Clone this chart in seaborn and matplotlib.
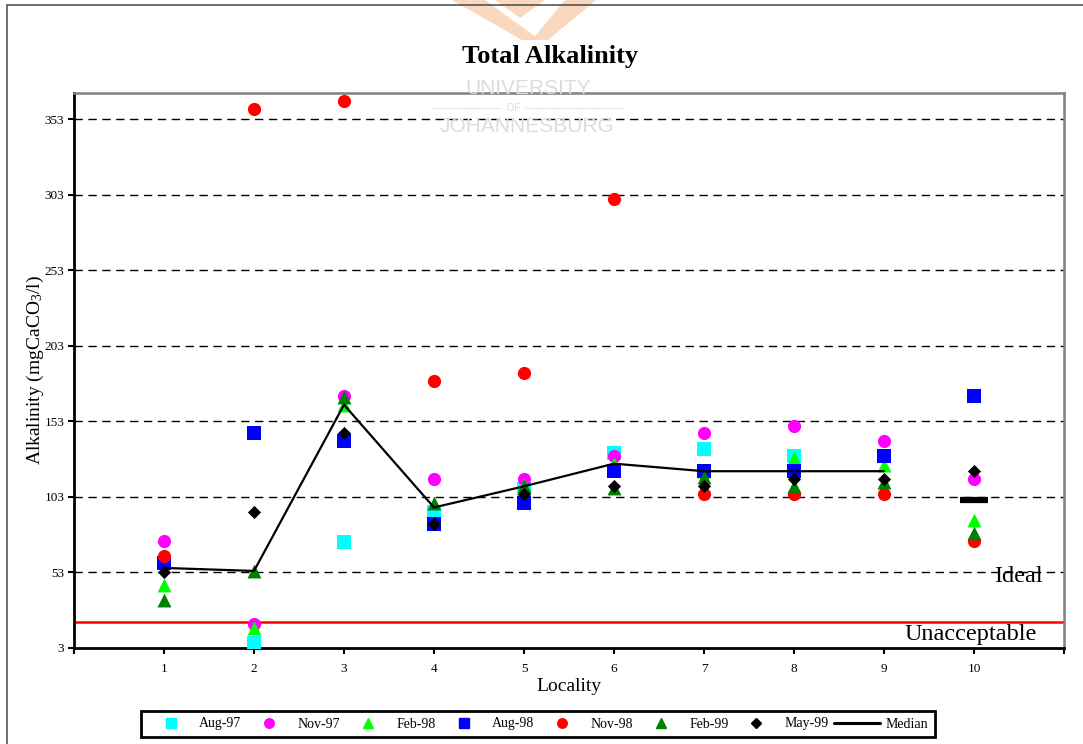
import numpy as np
import pandas as pd
import matplotlib
matplotlib.use('Agg')
import matplotlib.pyplot as plt
from matplotlib.patches import Polygon, Rectangle
from matplotlib.lines import Line2D
import seaborn as sns

# data (NaN = no sample)
locality = [1, 2, 3, 4, 5, 6, 7, 8, 9, 10]
aug97 = [np.nan, 6, 73, 93, 108, 132, 135, 130, np.nan, np.nan]
nov97 = [74, 19, 170, 115, 115, 130, 145, 150, 140, 115]
feb98 = [45, 16, 164, np.nan, 111, 125, 120, 129, 124, 88]
aug98 = [59, 145, 140, 85, 99, 120, 120, 120, 130, 170]
nov98 = [64, 360, 365, 180, 185, 300, 105, 105, 105, 74]
feb99 = [35, 54, 169, 99, 110, 109, 116, 110, 113, 79]
may99 = [53, 93, 145, 85, 105, 110, 110, 115, 115, 120]
median = [56, 54, 164, 96, 110, 125, 120, 120, 120, 101]

y_ticks = [3, 53, 103, 153, 203, 253, 303, 353]
unacceptable = 20
ideal = 53

series = [
    ('Aug-97', aug97, 's', '#00FFFF', 100),
    ('Nov-97', nov97, 'o', '#FF00FF', 90),
    ('Feb-98', feb98, '^', '#00FF00', 100),
    ('Aug-98', aug98, 's', '#0000FF', 100),
    ('Nov-98', nov98, 'o', '#FF0000', 90),
    ('Feb-99', feb99, '^', '#008000', 100),
    ('May-99', may99, 'D', '#000000', 45),
]

sns.set_style('white')
plt.rcParams['font.family'] = ['Liberation Serif', 'DejaVu Serif']
plt.rcParams['mathtext.default'] = 'regular'
for key in ['text.color', 'axes.labelcolor', 'xtick.color', 'ytick.color']:
    plt.rcParams[key] = 'black'

W, H = 1083, 744
fig = plt.figure(figsize=(W / 100, H / 100), dpi=100)
ax = fig.add_axes([74 / W, 96 / H, 990 / W, 555 / H])

# faint watermark of the scanned thesis page
wm = '#fad8bf'
fig.patches.append(Polygon([(452 / W, 1), (485 / W, 1), (540 / W, 1 - 40 / H), (522 / W, 1 - 40 / H)],
                           closed=True, transform=fig.transFigure, fc=wm, ec='none', zorder=0))
fig.patches.append(Polygon([(565 / W, 1), (596 / W, 1), (548 / W, 1 - 40 / H), (532 / W, 1 - 40 / H)],
                           closed=True, transform=fig.transFigure, fc=wm, ec='none', zorder=0))
fig.patches.append(Polygon([(495 / W, 1), (545 / W, 1), (520 / W, 1 - 18 / H)],
                           closed=True, transform=fig.transFigure, fc=wm, ec='none', zorder=0))
fig.text(528 / W, 1 - 88 / H, 'UNIVERSITY', ha='center', va='center', fontsize=15,
         family='Liberation Sans', color='#dcdcdc', zorder=0)
fig.text(528 / W, 1 - 108 / H, '———————  OF  ——————————', ha='center', va='center', fontsize=7,
         family='Liberation Sans', color='#dcdcdc', zorder=0)
fig.text(527 / W, 1 - 127 / H, 'JOHANNESBURG', ha='center', va='center', fontsize=15,
         family='Liberation Sans', color='#dcdcdc', zorder=0)
ax.patch.set_alpha(0)

# page frame
fig.patches.append(Rectangle((7 / W, -0.05), 1.2, 1.05 - 5 / H, transform=fig.transFigure,
                             fill=False, ec='#555555', lw=1.2))

for name, vals, mk, col, size in series:
    sns.scatterplot(x=locality, y=vals, marker=mk, color=col, s=size,
                    linewidth=0, ax=ax, zorder=3, legend=False)

sns.lineplot(x=locality[:9], y=median[:9], color='black', lw=1.6, ax=ax, zorder=4)
ax.plot(locality[9:], median[9:], marker='_', ms=20, mew=4.5, color='black', ls='none', zorder=4)

ax.axhline(unacceptable, color='red', lw=1.8, zorder=2)
ax.text(10.7, 8.3, 'Unacceptable', ha='right', va='baseline', fontsize=17.5)
ax.text(10.49, 46.5, 'Ideal', ha='center', va='baseline', fontsize=17.5, zorder=5)

ax.set_xlim(0, 11)
ax.set_ylim(3, 370.3)
ax.set_yticks(y_ticks)
ax.set_xticks(range(12))
ax.set_xticklabels([''] + [str(v) for v in locality] + [''])
for y in y_ticks[1:]:
    ax.axhline(y, color='black', lw=1, ls=(0, (6, 4)), zorder=1)
ax.tick_params(axis='both', direction='out', length=4, width=1.5, labelsize=9.5,
               left=True, bottom=True, pad=3)
ax.tick_params(axis='x', pad=7)

for side in ['top', 'right']:
    ax.spines[side].set_color('#808080')
    ax.spines[side].set_linewidth(1.8)
for side in ['left', 'bottom']:
    ax.spines[side].set_color('black')
    ax.spines[side].set_linewidth(2)

ax.set_xlabel('Locality', fontsize=14, labelpad=2)
fig.text(35 / W, 1 - 370 / H, 'Alkalinity (mgCaCO$_3$/l)', rotation=90, ha='center', va='center', fontsize=14)
fig.text(550 / W, 1 - 63 / H, 'Total Alkalinity', ha='center', va='baseline', fontsize=19, fontweight='bold')

handles = [Line2D([], [], marker=mk, color=col, ls='none', ms=np.sqrt(size) * 0.72)
           for name, vals, mk, col, size in series]
handles.append(Line2D([], [], color='black', lw=2.2))
labels = [s[0] for s in series] + ['Median']
leg = fig.legend(handles, labels, loc='center', bbox_to_anchor=(538 / W, 1 - 724 / H), ncol=8,
                 fontsize=10, frameon=True, fancybox=False, framealpha=1, edgecolor='black',
                 handlelength=3.3, handletextpad=0.4, columnspacing=0.35, borderpad=0.5)
leg.get_frame().set_linewidth(2)

fig.savefig('out.png', dpi=100)
